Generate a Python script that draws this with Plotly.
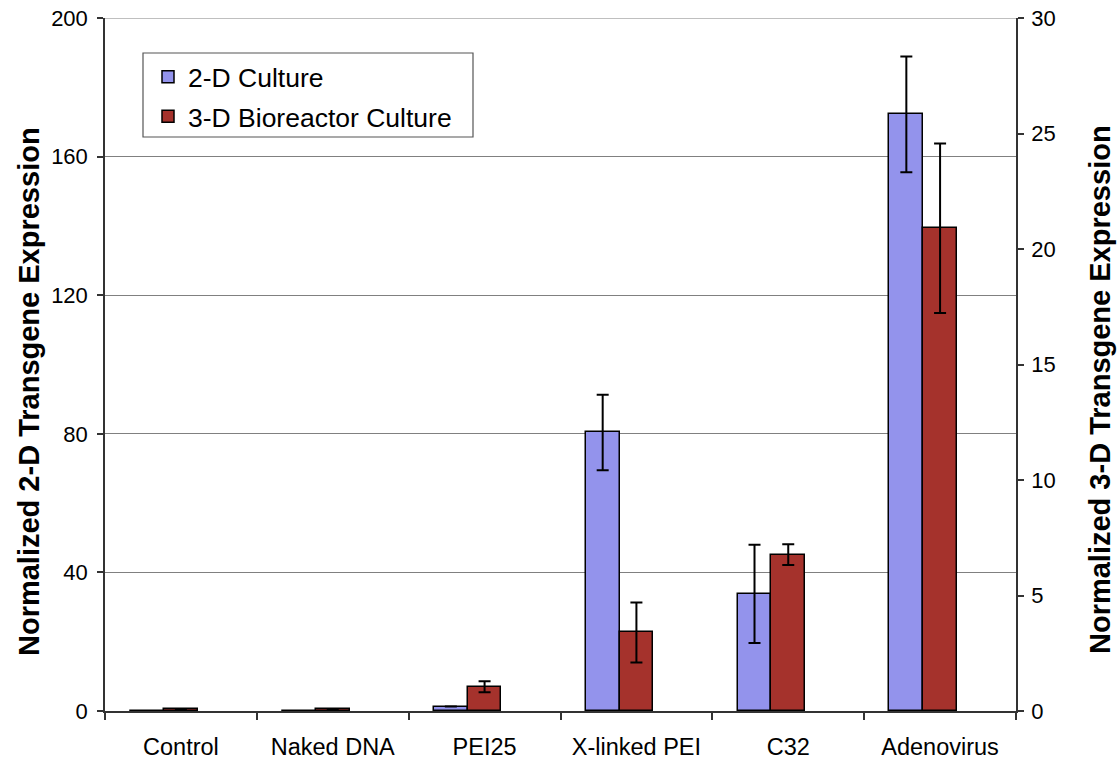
import plotly.graph_objects as go

# Delivery methods compared
categories = ["Control", "Naked DNA", "PEI25", "X-linked PEI", "C32", "Adenovirus"]

# 2-D culture (left axis) with standard deviations
expr_2d = [0.0, 0.0, 1.3, 80.4, 33.8, 172.2]
err_2d = [0.0, 0.0, 0.0, 10.9, 14.2, 16.7]

# 3-D bioreactor culture (right axis) with standard deviations
expr_3d = [0.08, 0.08, 1.05, 3.4, 6.77, 20.9]
err_3d = [0.0, 0.0, 0.24, 1.3, 0.45, 3.67]

left_ticks = [0, 40, 80, 120, 160, 200]
right_ticks = [0, 5, 10, 15, 20, 25, 30]

FONT = "Liberation Sans, Arial, sans-serif"
BLUE = "#9393ec"
RED = "#a5322c"
AXIS = "#333333"

# plot area in pixels
L, R, T, B = 105, 1016, 18, 711
PW, PH = R - L, B - T

def px_x(x):
    return (x - L) / PW

def px_y(y):
    return (B - y) / PH

# three slots per category with a 150% gap -> slot width 1/4.5
slot = 1 / 4.5

fig = go.Figure()
fig.add_trace(go.Bar(
    x=categories, y=expr_2d, name="2-D Culture", yaxis="y",
    width=slot, offset=-1.5 * slot,
    marker=dict(color=BLUE, line=dict(color="black", width=1.5)),
    error_y=dict(type="data", array=err_2d, visible=True,
                 color="black", thickness=2, width=6),
    legendgroup="a",
))
fig.add_trace(go.Bar(
    x=categories, y=expr_3d, name="3-D Bioreactor Culture", yaxis="y2",
    width=slot, offset=-0.5 * slot,
    marker=dict(color=RED, line=dict(color="black", width=1.5)),
    error_y=dict(type="data", array=err_3d, visible=True,
                 color="black", thickness=2, width=6),
    legendgroup="b",
))

fig.update_layout(
    width=1120, height=760,
    margin=dict(l=L, r=1120 - R, t=T, b=760 - B, autoexpand=False),
    paper_bgcolor="white", plot_bgcolor="white",
    font=dict(family=FONT, size=22, color="black"),
    showlegend=True,
    legend=dict(
        x=px_x(148), y=px_y(53), xanchor="left", yanchor="top",
        borderwidth=0, bgcolor="rgba(0,0,0,0)",
        font=dict(size=26.5), traceorder="grouped", tracegroupgap=2,
    ),
    xaxis=dict(
        type="category", range=[-0.5, 5.5], tickson="boundaries",
        ticks="outside", ticklen=7, tickcolor=AXIS, tickwidth=1.5,
        showline=True, linecolor=AXIS, linewidth=1.5, showgrid=False,
        tickfont=dict(size=23.5), ticklabelstandoff=14,
    ),
    yaxis=dict(
        range=[0, 200], tickvals=left_ticks, ticks="outside", ticklen=6,
        tickcolor=AXIS, tickwidth=1.5, showline=True, linecolor=AXIS,
        linewidth=1.5, showgrid=True, gridcolor="#808080", gridwidth=1,
        zeroline=False, ticklabelstandoff=5, tickfont=dict(size=22),
    ),
    yaxis2=dict(
        range=[0, 30], tickvals=right_ticks, overlaying="y", side="right",
        ticks="outside", ticklen=6, tickcolor=AXIS, tickwidth=1.5,
        showline=True, linecolor=AXIS, linewidth=1.5, showgrid=False,
        zeroline=False, ticklabelstandoff=3, tickfont=dict(size=22),
    ),
    yaxis3=dict(
        range=[0, 30], tickvals=right_ticks, overlaying="y", side="right",
        anchor="x", ticks="inside", ticklen=6, tickcolor=AXIS, tickwidth=1.5,
        showticklabels=False, showline=False, showgrid=False, zeroline=False,
    ),
    bargap=0,
)

# top gridline at the maximum of the left scale
fig.add_shape(
    type="line", xref="paper", yref="y", x0=0, x1=1,
    y0=left_ticks[-1], y1=left_ticks[-1],
    line=dict(color="#808080", width=1), layer="below",
)

# legend frame
fig.add_shape(
    type="rect", xref="paper", yref="paper",
    x0=px_x(143), x1=px_x(473), y0=px_y(137), y1=px_y(53),
    line=dict(color="#555555", width=1.2), fillcolor="white", layer="below",
)

fig.add_annotation(
    text="<b>Normalized 2-D Transgene Expression</b>", textangle=-90,
    xref="paper", yref="paper", x=px_x(29), y=px_y(392),
    xanchor="center", yanchor="middle", showarrow=False,
    font=dict(size=29, family=FONT),
)
fig.add_annotation(
    text="<b>Normalized 3-D Transgene Expression</b>", textangle=-90,
    xref="paper", yref="paper", x=px_x(1100), y=px_y(390),
    xanchor="center", yanchor="middle", showarrow=False,
    font=dict(size=29, family=FONT),
)

fig.write_html("out.html")
